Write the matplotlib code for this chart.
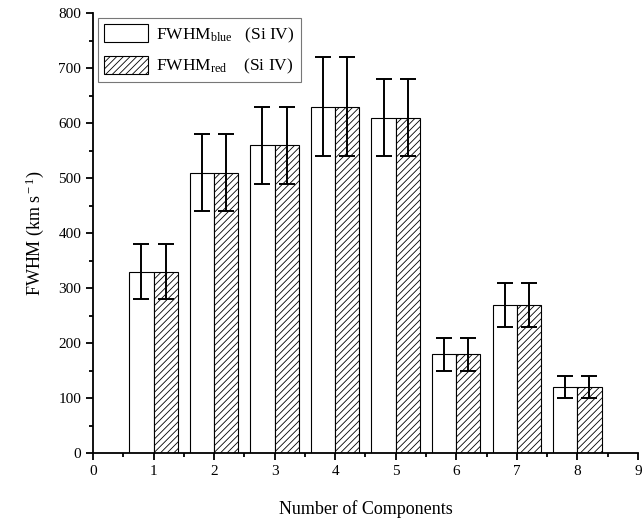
import numpy as np
import matplotlib
matplotlib.use("Agg")
import matplotlib.pyplot as plt
from matplotlib.ticker import MultipleLocator

# FWHM of the Si IV components (km/s)
components = [1, 2, 3, 4, 5, 6, 7, 8]
fwhm_blue = [330, 510, 560, 630, 610, 180, 270, 120]
fwhm_red = [330, 510, 560, 630, 610, 180, 270, 120]
err_blue = [50, 70, 70, 90, 70, 30, 40, 20]
err_red = [50, 70, 70, 90, 70, 30, 40, 20]

plt.rcParams['font.family'] = ['Liberation Serif', 'DejaVu Serif']
plt.rcParams['mathtext.fontset'] = 'custom'
plt.rcParams['mathtext.rm'] = 'Liberation Serif'
plt.rcParams['mathtext.it'] = 'Liberation Serif:italic'
plt.rcParams['hatch.linewidth'] = 0.6
plt.rcParams['hatch.color'] = '#555555'

fig = plt.figure(figsize=(6.43, 5.22), dpi=100)
ax = fig.add_axes([0.1446, 0.132, 0.8474, 0.843])

x = np.array(components, dtype=float)
w = 0.4
ax.bar(x - w/2, fwhm_blue, w, color='white', edgecolor='black', linewidth=0.8,
       label=r'FWHM$_{\rm blue}$   (Si IV)')
ax.bar(x + w/2, fwhm_red, w, color='white', edgecolor='black', linewidth=0.8,
       hatch='/////', label=r'FWHM$_{\rm red}$    (Si IV)')
ax.errorbar(x - w/2, fwhm_blue, yerr=err_blue, fmt='none', ecolor='black',
            elinewidth=1.4, capsize=5.5, capthick=1.4)
ax.errorbar(x + w/2, fwhm_red, yerr=err_red, fmt='none', ecolor='black',
            elinewidth=1.4, capsize=5.5, capthick=1.4)

ax.set_xlim(0, 9)
ax.set_ylim(0, 800)
ax.xaxis.set_major_locator(MultipleLocator(1))
ax.xaxis.set_minor_locator(MultipleLocator(0.5))
ax.yaxis.set_major_locator(MultipleLocator(100))
ax.yaxis.set_minor_locator(MultipleLocator(50))
ax.tick_params(which='major', direction='out', length=5, width=1.3, labelsize=11)
ax.tick_params(which='minor', direction='out', length=3, width=1.3)
ax.spines['top'].set_visible(False)
ax.spines['right'].set_visible(False)
ax.spines['left'].set_linewidth(1.3)
ax.spines['bottom'].set_linewidth(1.3)

ax.set_xlabel('Number of Components', fontsize=13, labelpad=16)
ax.set_ylabel(r'FWHM (km s$^{\rm -1}$)', fontsize=13, labelpad=9)

leg = ax.legend(loc='upper left', fontsize=12.5, frameon=True, fancybox=False,
                edgecolor='#555555', handlelength=2.5, handleheight=1.2,
                handletextpad=0.5, borderaxespad=0.3, labelspacing=0.65,
                borderpad=0.35)
leg.get_frame().set_linewidth(0.8)

fig.savefig('out.png', dpi=100)
